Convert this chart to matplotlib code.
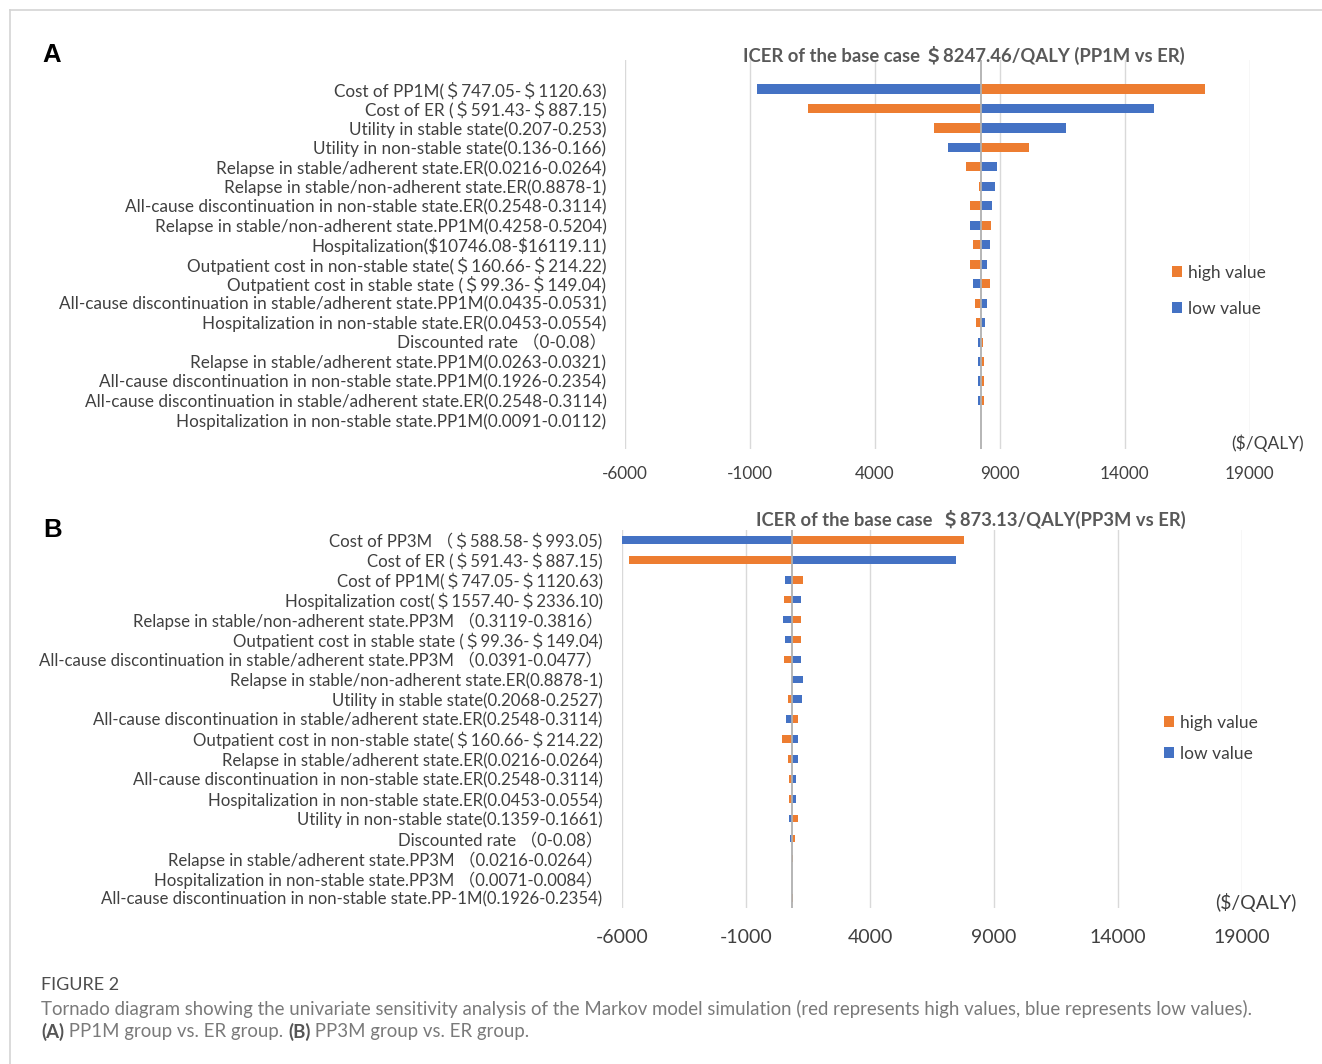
import matplotlib
matplotlib.use("Agg")
import matplotlib.pyplot as plt
from matplotlib.lines import Line2D

W, H = 1322, 1064
DPI = 100

ORANGE = "#ED7D31"
BLUE = "#4472C4"
GRID = "#d9d9d9"
TXT = "#404040"
TITLE_C = "#595959"

plt.rcParams["font.family"] = ["Lato", "Noto Sans CJK SC", "DejaVu Sans"]

# ---------------- Panel A: PP1M vs ER ----------------
base_a = 8247.46
params_a = [
    "Cost of PP1M(＄747.05-＄1120.63)",
    "Cost of ER (＄591.43-＄887.15)",
    "Utility in stable state(0.207-0.253)",
    "Utility in non-stable state(0.136-0.166)",
    "Relapse in stable/adherent state.ER(0.0216-0.0264)",
    "Relapse in stable/non-adherent state.ER(0.8878-1)",
    "All-cause discontinuation in non-stable state.ER(0.2548-0.3114)",
    "Relapse in stable/non-adherent state.PP1M(0.4258-0.5204)",
    "Hospitalization(\\$10746.08-\\$16119.11)",
    "Outpatient cost in non-stable state(＄160.66-＄214.22)",
    "Outpatient cost in stable state (＄99.36-＄149.04)",
    "All-cause discontinuation in stable/adherent state.PP1M(0.0435-0.0531)",
    "Hospitalization in non-stable state.ER(0.0453-0.0554)",
    "Discounted rate （0-0.08）",
    "Relapse in stable/adherent state.PP1M(0.0263-0.0321)",
    "All-cause discontinuation in non-stable state.PP1M(0.1926-0.2354)",
    "All-cause discontinuation in stable/adherent state.ER(0.2548-0.3114)",
    "Hospitalization in non-stable state.PP1M(0.0091-0.0112)",
]
low_a = [-720, 15160, 11640, 6930, 8908, 8820, 8696, 7804, 8604,
         8480, 7928, 8500, 8428, 8124, 8150, 8150, 8124, 8247.46]
high_a = [17230, 1356, 6372, 10196, 7676, 8176, 7820, 8640, 7928,
          7820, 8604, 8000, 8070, 8320, 8370, 8370, 8370, 8247.46]

# ---------------- Panel B: PP3M vs ER ----------------
base_b = 873.13
params_b = [
    "Cost of PP3M （＄588.58-＄993.05)",
    "Cost of ER (＄591.43-＄887.15)",
    "Cost of PP1M(＄747.05-＄1120.63)",
    "Hospitalization cost(＄1557.40-＄2336.10)",
    "Relapse in stable/non-adherent state.PP3M （0.3119-0.3816）",
    "Outpatient cost in stable state (＄99.36-＄149.04)",
    "All-cause discontinuation in stable/adherent state.PP3M （0.0391-0.0477）",
    "Relapse in stable/non-adherent state.ER(0.8878-1)",
    "Utility in stable state(0.2068-0.2527)",
    "All-cause discontinuation in stable/adherent state.ER(0.2548-0.3114)",
    "Outpatient cost in non-stable state(＄160.66-＄214.22)",
    "Relapse in stable/adherent state.ER(0.0216-0.0264)",
    "All-cause discontinuation in non-stable state.ER(0.2548-0.3114)",
    "Hospitalization in non-stable state.ER(0.0453-0.0554)",
    "Utility in non-stable state(0.1359-0.1661)",
    "Discounted rate （0-0.08）",
    "Relapse in stable/adherent state.PP3M （0.0216-0.0264）",
    "Hospitalization in non-stable state.PP3M （0.0071-0.0084）",
    "All-cause discontinuation in non-stable state.PP-1M(0.1926-0.2354)",
]
low_b = [-6000, 7480, 556, 1222, 480, 556, 1222, 1315, 1242, 613,
         1093, 1109, 1036, 1036, 742, 778, 873.13, 873.13, 873.13]
high_b = [7774, -5722, 1294, 536, 1222, 1202, 536, 873.13, 685, 1109,
          444, 685, 742, 722, 1093, 964, 907, 873.13, 907]

x_ticks = [-6000, -1000, 4000, 9000, 14000, 19000]
series_labels = ["high value", "low value"]


def px_axes(fig, x0, y0, x1, y1):
    """Add axes from a pixel box measured from the top-left corner."""
    return fig.add_axes([x0 / W, 1 - y1 / H, (x1 - x0) / W, (y1 - y0) / H])


def tornado(ax, labels, low, high, base, ylim, bar_h, label_size,
            tick_size, label_pad, tick_pad):
    n = len(labels)
    ys = list(range(n))
    b_low = ax.barh(ys, [v - base for v in low], left=base, height=bar_h,
                    color=BLUE, zorder=3)
    b_high = ax.barh(ys, [v - base for v in high], left=base, height=bar_h,
                     color=ORANGE, zorder=3)
    ax.set_xlim(-6000, 19000)
    ax.set_ylim(*ylim)
    ax.set_xticks(x_ticks)
    ax.set_xticklabels([str(t) for t in x_ticks])
    ax.xaxis.grid(True, color=GRID, lw=1.0, zorder=0)
    ax.set_axisbelow(True)
    ax.axvline(base, color="#b0b0b0", lw=1.3, zorder=4)
    for s in ax.spines.values():
        s.set_visible(False)
    ax.set_yticks(ys)
    ax.set_yticklabels(labels, fontsize=label_size, color=TXT)
    ax.tick_params(axis="y", length=0, pad=label_pad)
    ax.tick_params(axis="x", length=0, pad=tick_pad, labelsize=tick_size,
                   labelcolor=TXT)
    ax.set_facecolor("none")
    return b_high, b_low


fig = plt.figure(figsize=(W / DPI, H / DPI), dpi=DPI)

# thin frame along the top and left edges
fig.add_artist(Line2D([10 / W, 1], [1 - 10 / H, 1 - 10 / H],
                      transform=fig.transFigure, color="#d4d4d4", lw=1.2))
fig.add_artist(Line2D([10 / W, 10 / W], [0, 1 - 10 / H],
                      transform=fig.transFigure, color="#d4d4d4", lw=1.2))

# Panel A
ax_a = px_axes(fig, 624.5, 60, 1249.5, 449)
ha, la = tornado(ax_a, params_a, low_a, high_a, base_a,
                 ylim=(18.49, -1.49), bar_h=0.47, label_size=12.3,
                 tick_size=12.3, label_pad=13, tick_pad=12)
fig.text(964 / W, 1 - 55 / H, "ICER of the base case ＄8247.46/QALY (PP1M vs ER)",
         ha="center", va="center", fontsize=13.3, fontweight="bold", color=TITLE_C)
fig.text(1304 / W, 1 - 443 / H, "(\\$/QALY)", ha="right", va="center",
         fontsize=12.5, color=TXT)
ax_a.legend([ha, la], series_labels, loc="upper left",
            bbox_to_anchor=(1172 / W, 1 - 265 / H), bbox_transform=fig.transFigure,
            frameon=False, handlelength=0.6, handleheight=0.6,
            handletextpad=0.35, labelspacing=1.15, borderpad=0,
            borderaxespad=0, fontsize=12.5, labelcolor=TXT)
fig.text(42 / W, 1 - 55 / H, "A", ha="left", va="center", fontsize=18.5,
         fontweight="bold", color="black", family=["Liberation Sans", "DejaVu Sans"])

# Panel B
ax_b = px_axes(fig, 622, 530, 1242, 908)
hb, lb = tornado(ax_b, params_b, low_b, high_b, base_b,
                 ylim=(18.49, -0.5), bar_h=0.38, label_size=12.1,
                 tick_size=14, label_pad=14, tick_pad=15)
fig.text(971 / W, 1 - 519 / H, "ICER of the base case  ＄873.13/QALY(PP3M vs ER)",
         ha="center", va="center", fontsize=13.2, fontweight="bold", color=TITLE_C)
fig.text(1296 / W, 1 - 903 / H, "(\\$/QALY)", ha="right", va="center",
         fontsize=14, color=TXT)
ax_b.legend([hb, lb], series_labels, loc="upper left",
            bbox_to_anchor=(1164 / W, 1 - 715 / H), bbox_transform=fig.transFigure,
            frameon=False, handlelength=0.6, handleheight=0.6,
            handletextpad=0.35, labelspacing=0.85, borderpad=0,
            borderaxespad=0, fontsize=12.5, labelcolor=TXT)
fig.text(43 / W, 1 - 530 / H, "B", ha="left", va="center", fontsize=18.5,
         fontweight="bold", color="black", family=["Liberation Sans", "DejaVu Sans"])

# Caption
fig.text(41 / W, 1 - 985 / H, "FIGURE 2", ha="left", va="center",
         fontsize=13, color="#4d4d4d")
fig.text(41 / W, 1 - 1009 / H,
         "Tornado diagram showing the univariate sensitivity analysis of the Markov "
         "model simulation (red represents high values, blue represents low values).",
         ha="left", va="center", fontsize=13.4, color="#7a7a7a")

renderer = fig.canvas.get_renderer()
x = 41
for piece, weight in [("(A)", "bold"), (" PP1M group vs. ER group. ", "normal"),
                      ("(B)", "bold"), (" PP3M group vs. ER group.", "normal")]:
    t = fig.text(x / W, 1 - 1032 / H, piece, ha="left", va="center",
                 fontsize=13.4, fontweight=weight,
                 color="#555555" if weight == "bold" else "#7a7a7a")
    x += t.get_window_extent(renderer).width

fig.savefig("out.png", dpi=DPI, facecolor="white")
